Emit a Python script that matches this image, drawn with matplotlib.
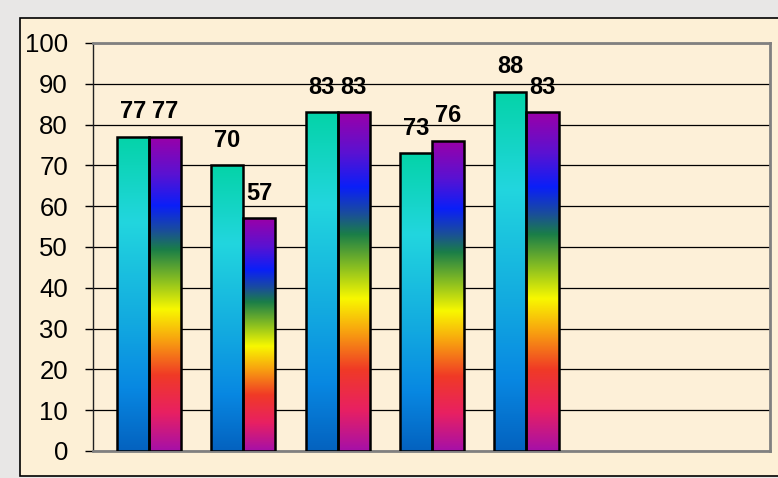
import matplotlib.pyplot as plt
import numpy as np
from matplotlib.colors import LinearSegmentedColormap
from matplotlib.patches import Rectangle

# Datos
categorias = ["1", "2", "3", "4", "5"]
serie_1 = [77, 70, 83, 73, 88]
serie_2 = [77, 57, 83, 76, 83]
ticks_y = np.arange(0, 101, 10)

# Degradados de las barras (de arriba hacia abajo)
cmap_1 = LinearSegmentedColormap.from_list("s1", [
    (0.0, "#04d3a8"), (0.27, "#22d6de"), (0.6, "#12a8e0"),
    (0.8, "#0888e2"), (1.0, "#0462bf")])
cmap_2 = LinearSegmentedColormap.from_list("s2", [
    (0.0, "#9a00a8"), (0.12, "#5a12d2"), (0.22, "#0a1ff8"),
    (0.30, "#1a4e9a"), (0.36, "#1a7e48"), (0.46, "#8cc020"),
    (0.55, "#f8f800"), (0.65, "#f8a010"), (0.76, "#f03a26"),
    (0.88, "#e82062"), (1.0, "#a610a8")])

fig = plt.figure(figsize=(7.78, 4.78), dpi=100)
fig.patch.set_facecolor("#e8e7e6")

# Área del gráfico (fondo tipo pergamino)
fondo = Rectangle((20 / 778, 2 / 478), 1.0, 458 / 478, transform=fig.transFigure,
                  facecolor="#fdf0d6", edgecolor="black", linewidth=1.2, zorder=-10)
fig.patches.append(fondo)

ax = fig.add_axes([93 / 778, 27 / 478, 677 / 778, 408 / 478])
ax.set_facecolor("#fdf0d8")

x = np.arange(len(categorias))
ancho = 0.34
b1 = ax.bar(x - ancho / 2, serie_1, ancho, facecolor="none", edgecolor="black",
            linewidth=1.8, zorder=4)
b2 = ax.bar(x + ancho / 2, serie_2, ancho, facecolor="none", edgecolor="black",
            linewidth=1.8, zorder=4)

grad = np.linspace(0, 1, 256).reshape(-1, 1)
for barras, cmap in [(b1, cmap_1), (b2, cmap_2)]:
    for p in barras:
        x0, w, h = p.get_x(), p.get_width(), p.get_height()
        im = ax.imshow(grad, cmap=cmap, extent=(x0, x0 + w, 0, h), origin="upper",
                       aspect="auto", zorder=3, interpolation="bilinear")
        im.set_clip_path(p)

# Etiquetas de valores
for barras, vals in [(b1, serie_1), (b2, serie_2)]:
    for p, v in zip(barras, vals):
        ax.annotate(str(v), (p.get_x() + p.get_width() / 2, v), xytext=(0, 18),
                    textcoords="offset points", ha="center", va="center",
                    fontsize=17, fontweight="bold", family="Liberation Sans", zorder=5)

ax.set_xlim(-0.593, 6.58)
ax.set_ylim(0, 100)
ax.set_yticks(ticks_y)
ax.set_xticks([])
ax.tick_params(axis="y", length=6, width=1, pad=12, labelsize=18.5)
for lab in ax.get_yticklabels():
    lab.set_family("Liberation Sans")
ax.yaxis.grid(True, color="black", linewidth=0.9)
ax.set_axisbelow(True)

for lado in ["top", "right", "bottom"]:
    ax.spines[lado].set_color("#808080")
    ax.spines[lado].set_linewidth(2)
ax.spines["left"].set_color("#202020")
ax.spines["left"].set_linewidth(1)

fig.savefig("out.png", dpi=100)
